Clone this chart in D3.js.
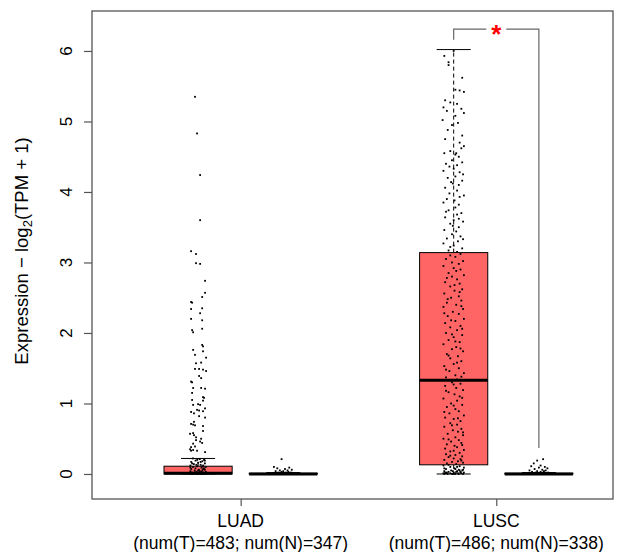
<!DOCTYPE html>
<html>
<head>
<meta charset="utf-8">
<script src="https://cdn.jsdelivr.net/npm/d3@7"></script>
<style>
  body { margin: 0; background: #fff; }
  svg { font-family: "Liberation Sans", Arial, sans-serif; }
</style>
</head>
<body>
<svg id="chart"></svg>
<script>
// ---------------- data ----------------
let groups = ['LUAD', 'LUSC']
let groupNums = ['(num(T)=483; num(N)=347)', '(num(T)=486; num(N)=338)']
let groupPos = [1.5, 4.5]

// 4 boxes: tumor / normal for each cancer
let boxPos = [1, 2, 4, 5]
let boxKind = ['T', 'N', 'T', 'N']
let q1 = [0, 0, 0.13, 0]
let med = [0.01, 0, 1.33, 0]
let q3 = [0.11, 0.01, 3.14, 0.01]
let whiskLo = [0, 0, 0, 0]
let whiskHi = [0.22, 0.02, 6.02, 0.02]

let yTicks = [0, 1, 2, 3, 4, 5, 6]

// jittered points: [value, jitter]
let luadTumorPts = [[5.35,-0.18],[4.83,-0.06],[4.24,0.12],[3.6,0.12],[3.16,-0.41],[3.12,-0.12],[2.99,-0.12],[2.98,0.12],[2.74,0.41],[2.57,0.41],[2.51,0.24],[2.44,-0.41],[2.43,-0.35],[2.35,0.24],[2.34,-0.41],[2.28,0.12],[2.2,-0.41],[2.18,0.24],[2.06,0.24],[2.04,-0.35],[2.01,-0.29],[1.83,0.24],[1.81,0.29],[1.76,-0.29],[1.74,0.29],[1.69,-0.18],[1.65,0.47],[1.58,0.18],[1.57,-0.12],[1.49,-0.18],[1.49,0.06],[1.48,0.29],[1.46,0.47],[1.39,0.06],[1.36,0.18],[1.31,-0.41],[1.3,-0.35],[1.22,-0.29],[1.22,0.18],[1.21,0.41],[1.15,-0.35],[1.09,0.29],[1.08,0.35],[1.05,-0.35],[1.04,0.29],[0.98,-0.29],[0.99,0.0],[0.98,0.12],[0.93,0.41],[0.91,-0.06],[0.88,-0.41],[0.9,0.06],[0.89,0.29],[0.86,-0.24],[0.82,0.06],[0.8,0.41],[0.74,-0.24],[0.71,-0.41],[0.7,-0.29],[0.69,-0.18],[0.68,0.29],[0.61,0.29],[0.57,-0.47],[0.58,-0.29],[0.55,-0.24],[0.52,-0.12],[0.5,0.18],[0.48,-0.12],[0.46,0.12],[0.43,-0.29],[0.44,0.24],[0.38,-0.41],[0.39,-0.18],[0.35,-0.47],[0.34,-0.29],[0.33,-0.06],[0.31,0.41],[0.33,-0.41],
  [0.22,-0.3],[0.21,0.1],[0.2,0.35],[0.19,-0.15],[0.18,0.25],[0.17,-0.4],[0.16,0.0],[0.15,0.4],[0.14,-0.25],[0.13,0.15],[0.12,-0.45],[0.12,0.3],[0.11,-0.05],[0.1,0.45],[0.1,-0.3],[0.09,0.2],[0.08,-0.15],[0.08,0.35],[0.07,-0.4],[0.06,0.05],[0.06,0.4],[0.05,-0.2],[0.05,0.25],[0.04,-0.45],[0.04,0.1],[0.03,0.45],[0.03,-0.1],[0.02,0.3],[0.02,-0.35],[0.02,0.0],[0.01,0.2],[0.01,-0.25],[0.01,0.4],[0.0,-0.4],[0.0,0.15],[0.0,-0.05],[0.0,0.35],
  [0.2,-0.05],[0.19,0.4],[0.17,0.15],[0.15,-0.35],[0.13,-0.1],[0.11,0.25],[0.09,-0.45],[0.07,0.3],[0.05,0.0],[0.03,0.2],[0.02,-0.2],[0.01,0.05],[0.0,-0.3],[0.0,0.25]]

let luadNormalPts = [[0.21,-0.1],[0.1,-0.55],[0.09,0.35],[0.08,-0.35],[0.07,0.1],[0.06,0.5],[0.05,-0.2],[0.05,0.25],[0.04,-0.45],[0.04,0.0],[0.03,0.3],[0.03,-0.1],[0.02,0.45],[0.02,-0.3],[0.02,0.15],[0.01,-0.5],[0.01,0.05],[0.01,0.35],[0.0,-0.2],[0.0,0.2],[0.0,0.5],[0.0,-0.4]]

let luscTumorPts = [[6.0,0.0],[5.93,-0.55],[5.84,-0.3],[5.8,-0.3],[5.62,0.5],[5.45,0.1],[5.44,0.35],[5.42,0.6],[5.3,-0.5],[5.27,-0.2],[5.2,-0.6],[5.18,0.45],[5.15,-0.4],[5.12,0.6],[5.08,0.1],[5.02,-0.65],[4.98,0.25],[4.95,-0.1],[4.75,-0.5],[4.7,0.35],[4.65,0.6],[4.62,0.45],[4.55,-0.55],[4.53,0.1],
  [4.58,-0.2],[4.55,0.15],[4.5,0.3],[4.45,-0.1],[4.42,0.5],[4.4,-0.45],[4.38,0.2],[4.33,0.0],[4.3,-0.6],[4.28,0.35],[4.22,0.1],[4.2,-0.35],[4.16,0.5],[4.12,-0.05],[4.1,0.3],[4.06,-0.5],[4.02,0.2],[3.98,-0.25],[3.95,0.6],[3.9,-0.4],[3.88,0.05],[3.85,-0.6],[3.82,0.3],[3.78,0.1],[3.74,-0.3],[3.7,0.45],[3.68,0.2],[3.64,-0.5],[3.6,0.0],[3.58,0.55],[3.55,-0.2],[3.5,0.3],[3.46,-0.55],[3.44,0.15],[3.4,-0.1],[3.37,0.4],[3.34,-0.4],[3.3,0.25],[3.27,-0.6],[3.24,0.0],[3.2,0.5],[3.17,-0.3],[3.15,0.2],
  [3.1,-0.2],[3.08,0.1],[3.05,-0.45],[3.02,0.55],[2.98,0.3],[2.95,-0.6],[2.92,0.0],[2.9,0.4],[2.85,-0.3],[2.82,0.6],[2.8,-0.1],[2.76,0.2],[2.72,-0.5],[2.7,0.35],[2.66,-0.2],[2.62,0.5],[2.6,0.05],[2.56,-0.55],[2.52,0.3],[2.5,-0.15],[2.46,0.45],[2.43,-0.4],[2.4,0.15],[2.37,-0.6],[2.34,0.55],[2.3,-0.05],[2.27,0.3],[2.24,-0.35],[2.2,0.6],[2.17,0.1],[2.14,-0.5],[2.1,0.4],[2.08,-0.2],[2.04,0.2],[2.0,-0.45],[1.97,0.5],[1.94,0.0],[1.9,-0.3],[1.87,0.35],[1.84,-0.6],[1.8,0.15],[1.77,-0.1],[1.74,0.55],[1.7,-0.4],[1.67,0.25],[1.64,-0.2],[1.6,0.45],[1.56,0.0],[1.53,-0.55],[1.5,0.3],[1.46,-0.25],[1.43,0.6],[1.4,0.1],[1.37,-0.45],[1.34,0.2],
  [1.3,-0.1],[1.28,0.4],[1.25,-0.5],[1.22,0.15],[1.19,0.55],[1.16,-0.3],[1.13,0.05],[1.1,0.35],[1.07,-0.6],[1.04,0.2],[1.0,-0.15],[0.98,0.5],[0.95,-0.4],[0.92,0.1],[0.89,0.3],[0.86,-0.25],[0.83,0.6],[0.8,-0.5],[0.78,0.0],[0.75,0.4],[0.72,-0.2],[0.7,0.2],[0.67,-0.55],[0.64,0.45],[0.62,-0.05],[0.6,0.25],[0.57,-0.35],[0.55,0.55],[0.52,0.1],[0.5,-0.6],[0.48,0.3],[0.46,-0.15],[0.44,0.45],[0.42,-0.4],[0.4,0.05],[0.38,0.2],[0.36,-0.5],[0.34,0.6],[0.32,-0.2],[0.3,0.35],[0.28,-0.45],[0.27,0.1],[0.25,0.5],[0.24,-0.3],[0.22,0.0],[0.21,0.4],[0.2,-0.55],[0.18,0.25],[0.17,-0.1],[0.16,0.55],[0.15,-0.4],[0.14,0.15],[0.12,-0.6],[0.11,0.35],[0.1,-0.2],[0.09,0.6],[0.08,0.05],[0.07,-0.45],[0.06,0.3],[0.05,-0.15],[0.05,0.5],[0.04,-0.55],[0.04,0.2],[0.03,-0.3],[0.03,0.4],[0.02,0.0],[0.02,-0.5],[0.02,0.6],[0.01,-0.2],[0.01,0.25],[0.01,-0.6],[0.01,0.45],[0.0,-0.35],[0.0,0.1],[0.0,0.55],[0.0,-0.1],
  [5.25,0.2],[4.88,-0.35],[4.8,0.5],[4.36,-0.25],[4.25,0.55],[4.14,-0.15],[3.93,0.35],[3.72,-0.45],[3.62,0.3],[3.52,-0.05],[3.33,0.55],[3.22,-0.2],[3.12,0.4],[3.0,-0.1],[2.88,0.15],[2.78,-0.4],[2.68,0.05],[2.58,0.35],[2.48,-0.35],[2.38,0.45],[2.28,-0.55],[2.18,-0.15],[2.06,0.5],[1.98,-0.1],[1.88,0.1],[1.78,0.4],[1.68,-0.3],[1.58,0.2],[1.48,-0.45],[1.38,0.45],[1.27,0.0],[1.18,-0.45],[1.08,0.5],[0.97,0.0],[0.88,-0.55],[0.79,0.25],[0.69,-0.1],[0.59,0.55],[0.49,-0.3],[0.41,0.5],[0.33,0.0],[0.26,-0.2],[0.19,0.45],[0.13,-0.3],[0.1,0.2],[0.08,-0.55],[0.06,0.55],[0.04,-0.05],[0.03,0.15],[0.02,-0.4],[0.01,0.1],[0.0,0.3],[0.0,-0.55],[0.07,0.1],[0.05,0.35],[0.02,0.4],[0.01,-0.45],[0.0,0.0]]

let luscNormalPts = [[0.21,0.25],[0.19,-0.1],[0.15,-0.3],[0.12,0.1],[0.11,-0.45],[0.1,0.35],[0.09,0.0],[0.08,0.5],[0.07,-0.25],[0.06,0.2],[0.05,-0.55],[0.05,0.4],[0.04,-0.1],[0.04,0.3],[0.03,-0.4],[0.03,0.1],[0.02,0.55],[0.02,-0.2],[0.02,0.25],[0.01,-0.5],[0.01,0.0],[0.01,0.45],[0.0,-0.3],[0.0,0.15],[0.0,-0.6],[0.0,0.6]]

let allPts = [luadTumorPts, luadNormalPts, luscTumorPts, luscNormalPts]

// significance bracket between box 4 and 5 (LUSC)
let sigFrom = 4, sigTo = 5
let sigTop = 6.31, sigLeftEnd = 6.16, sigRightEnd = 0.37
let sigLabel = '*'

// ---------------- drawing ----------------
let width = 633
let height = 552
let margin = {left: 92, right: 20, top: 11, bottom: 53}

let svg = d3.select('#chart').attr('width', width).attr('height', height)

let xScale = d3.scaleLinear()
  .domain([-0.245, 5.87])
  .range([margin.left, width - margin.right])

let yScale = d3.scaleLinear()
  .domain([-0.355, 6.567])
  .range([height - margin.bottom, margin.top])

let unit = xScale(1) - xScale(0)
let boxW = 0.8 * unit
let capW = 0.4 * unit
let jitterW = 0.2

let colors = {T: '#ff6565', N: '#a8a8a8'}

// boxes
let boxes = svg.append('g')
boxPos.forEach((p, i) => {
  let cx = xScale(p)
  let g = boxes.append('g')
  // whiskers (dashed)
  g.append('line')
    .attr('x1', cx).attr('x2', cx)
    .attr('y1', yScale(q3[i])).attr('y2', yScale(whiskHi[i]))
    .attr('stroke', '#000').attr('stroke-width', 1).attr('stroke-dasharray', '4,3')
  g.append('line')
    .attr('x1', cx).attr('x2', cx)
    .attr('y1', yScale(q1[i])).attr('y2', yScale(whiskLo[i]))
    .attr('stroke', '#000').attr('stroke-width', 1).attr('stroke-dasharray', '4,3')
  // caps
  ;[whiskHi[i], whiskLo[i]].forEach(v => {
    g.append('line')
      .attr('x1', cx - capW / 2).attr('x2', cx + capW / 2)
      .attr('y1', yScale(v)).attr('y2', yScale(v))
      .attr('stroke', '#000').attr('stroke-width', 1)
  })
  // box
  g.append('rect')
    .attr('x', cx - boxW / 2)
    .attr('y', yScale(q3[i]))
    .attr('width', boxW)
    .attr('height', Math.max(0.5, yScale(q1[i]) - yScale(q3[i])))
    .attr('fill', colors[boxKind[i]])
    .attr('stroke', '#000').attr('stroke-width', 1)
  // median
  g.append('line')
    .attr('x1', cx - boxW / 2).attr('x2', cx + boxW / 2)
    .attr('y1', yScale(med[i])).attr('y2', yScale(med[i]))
    .attr('stroke', '#000').attr('stroke-width', 3)
})

// jittered points
let dots = svg.append('g')
allPts.forEach((pts, i) => {
  dots.selectAll(null)
    .data(pts)
    .enter()
    .append('rect')
    .attr('x', d => xScale(boxPos[i] + d[1] * jitterW) - 0.9)
    .attr('y', d => yScale(d[0]) - 0.9)
    .attr('width', 1.8)
    .attr('height', 1.8)
    .attr('fill', '#000')
})

// significance bracket
let bx1 = xScale(sigFrom), bx2 = xScale(sigTo)
svg.append('path')
  .attr('d', 'M' + bx1 + ',' + yScale(sigLeftEnd) + 'V' + yScale(sigTop) + 'H' + (xScale((sigFrom + sigTo) / 2) - 10) +
    'M' + (xScale((sigFrom + sigTo) / 2) + 10) + ',' + yScale(sigTop) + 'H' + bx2 + 'V' + yScale(sigRightEnd))
  .attr('fill', 'none').attr('stroke', '#666').attr('stroke-width', 1.2)
svg.append('text')
  .attr('x', xScale((sigFrom + sigTo) / 2))
  .attr('y', yScale(sigTop) + 14)
  .attr('text-anchor', 'middle')
  .attr('font-size', 26)
  .attr('font-weight', 'bold')
  .attr('fill', '#ff0000')
  .text(sigLabel)

// frame
svg.append('rect')
  .attr('x', margin.left).attr('y', margin.top)
  .attr('width', width - margin.left - margin.right)
  .attr('height', height - margin.top - margin.bottom)
  .attr('fill', 'none').attr('stroke', '#555').attr('stroke-width', 1.3)

// y axis
let yAxis = d3.axisLeft(yScale).tickValues(yTicks).tickSize(8).tickFormat('')
let yg = svg.append('g')
  .attr('transform', 'translate(' + margin.left + ',0)')
  .call(yAxis)
yg.select('.domain').remove()
yg.selectAll('.tick line').attr('stroke', '#555').attr('stroke-width', 1.2)
yTicks.forEach(t => {
  svg.append('text')
    .attr('transform', 'translate(72,' + yScale(t) + ') rotate(-90)')
    .attr('text-anchor', 'middle')
    .attr('font-size', 17)
    .attr('fill', '#000')
    .text(t)
})

// x axis
let xAxis = d3.axisBottom(xScale).tickValues(groupPos).tickSize(7).tickFormat('')
let xg = svg.append('g')
  .attr('transform', 'translate(0,' + (height - margin.bottom) + ')')
  .call(xAxis)
xg.select('.domain').remove()
xg.selectAll('.tick line').attr('stroke', '#555').attr('stroke-width', 1.2)
groups.forEach((g, i) => {
  svg.append('text')
    .attr('x', xScale(groupPos[i])).attr('y', 527)
    .attr('text-anchor', 'middle').attr('font-size', 17.5)
    .text(g)
  svg.append('text')
    .attr('x', xScale(groupPos[i])).attr('y', 549)
    .attr('text-anchor', 'middle').attr('font-size', 17.5)
    .text(groupNums[i])
})

// y title
let title = svg.append('text')
  .attr('transform', 'translate(28,251) rotate(-90)')
  .attr('text-anchor', 'middle')
  .attr('font-size', 18.5)
title.append('tspan').text('Expression \u2212 log')
title.append('tspan').attr('font-size', 13).attr('dy', 4).text('2')
title.append('tspan').attr('dy', -4).text('(TPM + 1)')
</script>
</body>
</html>
